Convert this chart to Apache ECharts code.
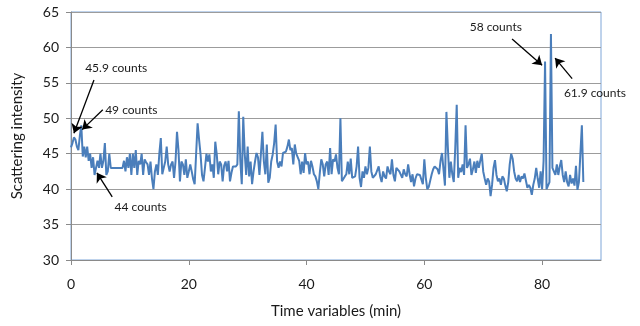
<!DOCTYPE html>
<html>
<head>
<meta charset="utf-8">
<script src="https://cdn.jsdelivr.net/npm/echarts@6/dist/echarts.min.js"></script>
<style>
html,body{margin:0;padding:0;background:#fff;}
#chart{width:640px;height:326px;}
</style>
</head>
<body>
<div id="chart"></div>
<script>
// Sampling: one reading every 0.25 min starting at 0 min
const startTime = 0;
const sampleStep = 0.25;

// Scattering intensity readings (counts), grouped per 10 minutes
const seg00 = [45.9,46.5,47.3,47.0,46.0,45.5,47.5,49.0,44.6,46.0,44.5,46.0,44.0,45.0,43.0,44.5,42.0,43.0,44.0,43.0,
               45.0,43.0,44.0,46.5,42.0,42.5,45.0,43.0,43.0,43.0,43.0,43.0,43.0,43.0,43.0,43.0,44.0,42.5,44.5,43.0];
const seg10 = [45.0,42.0,45.0,43.0,45.5,42.0,44.0,43.5,45.0,42.0,44.2,43.8,43.5,42.0,43.9,41.5,40.0,42.5,43.5,42.0,
               45.0,47.2,42.1,43.0,43.9,46.0,43.5,42.5,43.5,43.9,41.6,43.9,48.1,45.5,41.1,43.9,43.5,42.0,44.2,41.6];
const seg20 = [42.5,43.5,42.5,41.4,40.7,45.0,49.3,47.0,44.9,42.0,41.1,43.0,45.0,43.9,44.9,42.5,43.5,41.6,46.7,44.9,
               42.1,43.9,43.5,41.1,43.3,43.9,42.5,44.0,41.1,42.3,43.2,43.0,43.2,43.5,51.0,44.0,40.7,50.2,45.0,42.0];
const seg30 = [46.0,41.8,43.9,40.7,42.5,43.9,45.1,44.5,42.0,45.0,48.1,43.9,42.1,46.3,40.9,41.6,43.9,44.9,46.5,49.1,
               43.9,43.0,43.9,43.2,45.1,45.1,45.3,46.0,47.0,45.5,45.8,43.5,46.3,45.0,45.1,44.0,42.1,43.9,42.3,45.1];
const seg40 = [43.5,43.9,42.1,44.0,43.2,42.1,41.8,41.1,40.0,42.3,44.2,43.5,41.8,43.5,43.9,42.0,45.8,42.1,44.2,43.9,
               44.9,43.0,42.1,50.0,41.1,41.1,41.8,42.1,43.9,42.1,44.3,41.6,41.6,41.8,43.2,46.0,41.6,40.3,42.5,41.6];
const seg50 = [43.2,42.1,43.0,46.0,42.5,41.6,41.8,42.1,42.1,43.2,41.8,41.0,42.5,41.8,41.5,43.2,42.5,42.1,44.2,42.0,
               41.1,43.0,43.0,42.5,42.3,41.6,42.8,42.1,41.8,43.5,42.1,41.0,42.1,40.4,41.5,42.1,42.1,42.0,41.8,40.7];
const seg60 = [44.2,41.6,40.0,40.3,41.2,42.1,42.8,43.2,43.2,42.8,42.1,44.0,45.1,45.1,40.5,50.9,45.8,41.6,43.9,42.1,
               41.0,45.8,51.9,41.6,43.0,42.4,43.5,42.0,49.0,43.0,43.5,44.3,42.0,42.8,43.9,42.3,44.0,43.0,44.0,45.0];
const seg70 = [42.5,41.5,40.6,41.5,41.1,39.0,40.6,43.0,44.1,42.0,41.1,41.5,40.6,41.8,41.5,40.5,39.7,41.0,43.5,45.0,
               44.3,42.5,41.5,41.1,42.0,41.0,41.8,41.5,42.2,42.2,40.2,40.6,40.2,39.2,40.6,41.5,43.0,41.5,40.2,42.5];
const seg80 = [40.0,44.0,58.0,40.0,40.5,41.0,61.9,43.0,43.0,42.0,43.5,42.0,43.2,44.1,42.0,41.0,42.5,41.0,40.4,42.0,
               40.8,41.5,40.5,43.3,39.9,41.0,45.0,49.0,41.0];

// Axis ticks
const xTicks = [0, 20, 40, 60, 80];
const yTicks = [30, 35, 40, 45, 50, 55, 60, 65];

// Annotations (data space: [time, intensity])
const noteTexts  = ['45.9 counts', '49 counts', '44 counts', '58 counts', '61.9 counts'];
const noteAnchor = [[2.4, 57.1], [5.8, 51.2], [7.4, 37.4], [67.7, 62.9], [83.7, 53.6]];
const arrowTail  = [[3.9, 55.4], [5.4, 51.2], [7.0, 38.9], [74.9, 61.2], [85.1, 55.6]];
const arrowHead  = [[0.5, 47.9], [1.9, 48.4], [4.4, 42.3], [80.0, 57.5], [82.2, 58.5]];

const intensity = [].concat(seg00, seg10, seg20, seg30, seg40, seg50, seg60, seg70, seg80);
const seriesData = intensity.map((v, i) => [startTime + i * sampleStep, v]);

const FONT = 'Lato';
const chart = echarts.init(document.getElementById('chart'), null, {renderer: 'canvas'});
chart.setOption({
  animation: false,
  backgroundColor: '#ffffff',
  grid: {
    left: 71, right: 39, top: 12, bottom: 66,
    show: true, borderColor: '#7ea6d8', borderWidth: 1, backgroundColor: 'transparent'
  },
  xAxis: {
    type: 'value', min: 0, max: 90, interval: 20,
    name: 'Time variables (min)', nameLocation: 'middle', nameGap: 44,
    nameTextStyle: {fontFamily: FONT, fontSize: 15, color: '#1a1a1a'},
    axisLine: {show: true, onZero: false, lineStyle: {color: '#8a8a8a', width: 1}},
    axisTick: {show: true, length: 5, inside: false, lineStyle: {color: '#8a8a8a'}, customValues: xTicks},
    axisLabel: {fontFamily: FONT, fontSize: 14, color: '#1a1a1a', margin: 17, customValues: xTicks},
    splitLine: {show: false}
  },
  yAxis: {
    type: 'value', min: 30, max: 65, interval: 5,
    name: 'Scattering intensity', nameLocation: 'middle', nameGap: 46, nameRotate: 90,
    nameTextStyle: {fontFamily: FONT, fontSize: 15, color: '#1a1a1a'},
    axisLine: {show: true, lineStyle: {color: '#8a8a8a', width: 1}},
    axisTick: {show: true, length: 5, lineStyle: {color: '#8a8a8a'}, customValues: yTicks},
    axisLabel: {fontFamily: FONT, fontSize: 14, color: '#1a1a1a', margin: 12, customValues: yTicks},
    splitLine: {show: true, lineStyle: {color: '#9c9c9c', width: 1}}
  },
  series: [{
    type: 'line',
    data: seriesData,
    showSymbol: false,
    symbol: 'none',
    lineStyle: {color: '#4a7ebb', width: 2},
    itemStyle: {color: '#4a7ebb'},
    z: 3,
    markLine: {
      silent: true,
      symbol: ['none', 'arrow'],
      symbolSize: 9,
      label: {show: false},
      lineStyle: {color: '#000000', width: 1.3, type: 'solid'},
      itemStyle: {color: '#000000'},
      emphasis: {disabled: true},
      data: arrowTail.map((t, i) => [{coord: t}, {coord: arrowHead[i]}])
    },
    markPoint: {
      silent: true,
      symbol: 'circle',
      symbolSize: 0,
      data: noteAnchor.map((c, i) => ({coord: c, value: noteTexts[i]})),
      label: {
        show: true, position: 'right', distance: 0,
        formatter: p => p.value,
        fontFamily: FONT, fontSize: 12, color: '#1a1a1a'
      }
    }
  }]
});
</script>
</body>
</html>
